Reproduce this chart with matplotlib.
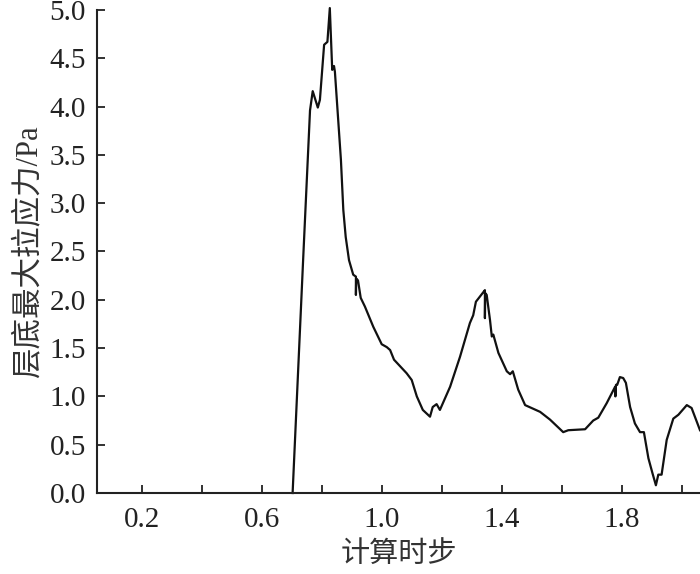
import matplotlib
matplotlib.use("Agg")
import matplotlib.pyplot as plt

plt.rcParams['font.family'] = ['Liberation Serif', 'Noto Sans CJK SC', 'DejaVu Sans']

# 计算时步 vs 层底最大拉应力
steps = [0.702, 0.737, 0.760, 0.769, 0.786, 0.793, 0.807, 0.818, 0.826, 0.834,
         0.840, 0.843, 0.854, 0.863, 0.871, 0.879, 0.890, 0.904, 0.913, 0.913,
         0.914, 0.920, 0.929, 0.943, 0.971, 0.999, 1.016, 1.027, 1.040, 1.082,
         1.099, 1.116, 1.136, 1.160, 1.169, 1.182, 1.193, 1.227, 1.260, 1.293,
         1.304, 1.313, 1.338, 1.343, 1.343, 1.344, 1.349, 1.360, 1.366, 1.371,
         1.388, 1.416, 1.427, 1.436, 1.454, 1.477, 1.527, 1.560, 1.604, 1.621,
         1.677, 1.704, 1.721, 1.749, 1.777, 1.778, 1.780, 1.784, 1.793, 1.804,
         1.813, 1.827, 1.843, 1.860, 1.873, 1.888, 1.902, 1.913, 1.921, 1.932,
         1.949, 1.971, 1.988, 2.016, 2.032, 2.060]
stress = [0.00, 2.41, 3.96, 4.16, 3.99, 4.07, 4.64, 4.67, 5.02, 4.38,
          4.42, 4.36, 3.86, 3.45, 2.93, 2.65, 2.41, 2.26, 2.24, 2.05,
          2.22, 2.20, 2.02, 1.93, 1.72, 1.54, 1.51, 1.48, 1.38, 1.24,
          1.17, 1.00, 0.86, 0.79, 0.89, 0.92, 0.86, 1.10, 1.41, 1.76,
          1.84, 1.98, 2.08, 2.10, 1.81, 2.07, 2.05, 1.79, 1.62, 1.64,
          1.45, 1.26, 1.23, 1.26, 1.07, 0.91, 0.84, 0.76, 0.63, 0.65,
          0.66, 0.75, 0.78, 0.93, 1.10, 1.00, 1.12, 1.12, 1.20, 1.19,
          1.14, 0.89, 0.72, 0.63, 0.63, 0.36, 0.20, 0.08, 0.19, 0.19,
          0.55, 0.77, 0.81, 0.91, 0.88, 0.65]

xticks_major = [0.2, 0.4, 0.6, 0.8, 1.0, 1.2, 1.4, 1.6, 1.8, 2.0]
xtick_labels = ['0.2', '', '0.6', '', '1.0', '', '1.4', '', '1.8', '']
yticks = [0.0, 0.5, 1.0, 1.5, 2.0, 2.5, 3.0, 3.5, 4.0, 4.5, 5.0]

fig = plt.figure(figsize=(7.0, 5.74), dpi=100)
ax = fig.add_axes([0.1386, 0.1411, 0.8614, 0.8415])

ax.plot(steps, stress, color='#111111', linewidth=1.6, clip_on=False)

ax.set_xlim(0.05, 2.06)
ax.set_ylim(0, 5.0)
ax.set_xticks(xticks_major)
ax.set_xticklabels(xtick_labels)
ax.set_yticks(yticks)
ax.set_yticklabels(['%.1f' % v for v in yticks])

for s in ['top', 'right']:
    ax.spines[s].set_visible(False)
for s in ['left', 'bottom']:
    ax.spines[s].set_linewidth(1.5)
    ax.spines[s].set_color('#222222')

ax.tick_params(direction='in', length=6, width=1.3, labelsize=21, colors='#222222')
ax.tick_params(axis='x', pad=10)
ax.tick_params(axis='y', pad=8)

ax.set_xlabel('计算时步', fontsize=21, color='#333333', labelpad=6)
ax.set_ylabel('层底最大拉应力/Pa', fontsize=22, color='#333333', labelpad=4)

fig.savefig('out.png', dpi=100)
